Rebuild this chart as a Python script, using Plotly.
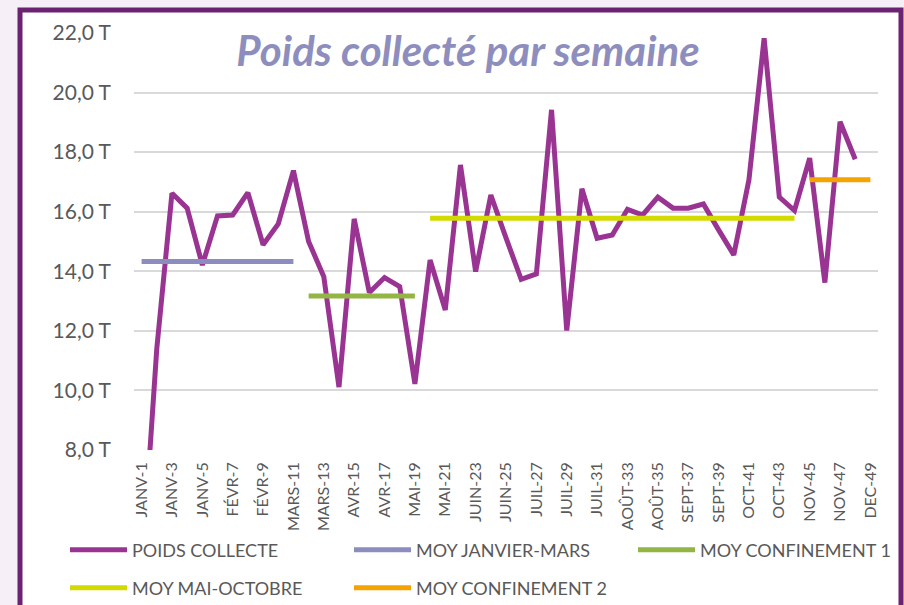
import plotly.graph_objects as go

month_of_week = {
    1: "JANV", 2: "JANV", 3: "JANV", 4: "JANV", 5: "JANV",
    6: "FÉVR", 7: "FÉVR", 8: "FÉVR", 9: "FÉVR",
    10: "MARS", 11: "MARS", 12: "MARS", 13: "MARS",
    14: "AVR", 15: "AVR", 16: "AVR", 17: "AVR",
    18: "MAI", 19: "MAI", 20: "MAI", 21: "MAI", 22: "MAI",
    23: "JUIN", 24: "JUIN", 25: "JUIN", 26: "JUIN",
    27: "JUIL", 28: "JUIL", 29: "JUIL", 30: "JUIL", 31: "JUIL",
    32: "AOÛT", 33: "AOÛT", 34: "AOÛT", 35: "AOÛT",
    36: "SEPT", 37: "SEPT", 38: "SEPT", 39: "SEPT",
    40: "OCT", 41: "OCT", 42: "OCT", 43: "OCT", 44: "OCT",
    45: "NOV", 46: "NOV", 47: "NOV", 48: "NOV",
    49: "DEC",
}
weeks = list(range(1, 50))
week_labels = [f"{month_of_week[w]}-{w}" for w in weeks]
tick_labels = [lbl for w, lbl in zip(weeks, week_labels) if w % 2 == 1]

poids_collecte = [
    3.8, 11.4, 16.62, 16.12, 14.21, 15.86, 15.89, 16.64, 14.89, 15.59,
    17.38, 15.0, 13.82, 10.11, 15.76, 13.29, 13.79, 13.49, 10.22, 14.38,
    12.7, 17.57, 13.99, 16.56, 15.12, 13.73, 13.91, 19.42, 12.01, 16.77,
    15.11, 15.22, 16.08, 15.89, 16.49, 16.12, 16.12, 16.26, 15.39, 14.55,
    17.07, 21.82, 16.49, 16.04, 17.8, 13.62, 19.02, 17.76, None,
]

moy_janvier_mars = 14.33
moy_confinement_1 = 13.17
moy_mai_octobre = 15.78
moy_confinement_2 = 17.07
periods = [
    ("MOY JANVIER-MARS", 1, 11, moy_janvier_mars, "#8C8DBE", "legend"),
    ("MOY CONFINEMENT 1", 12, 19, moy_confinement_1, "#93B544", "legend"),
    ("MOY MAI-OCTOBRE", 20, 44, moy_mai_octobre, "#D2DA00", "legend2"),
    ("MOY CONFINEMENT 2", 45, 49, moy_confinement_2, "#F5A300", "legend2"),
]

FONT = "Lato"
GREY = "#595959"

fig = go.Figure()
fig.add_trace(go.Scatter(
    x=week_labels, y=poids_collecte, mode="lines", name="POIDS COLLECTE",
    line=dict(color="#9A3493", width=5), legend="legend",
))
for name, w0, w1, val, col, leg in periods:
    ys = [val if w0 <= w <= w1 else None for w in weeks]
    fig.add_trace(go.Scatter(
        x=week_labels, y=ys, mode="lines", name=name,
        line=dict(color=col, width=5), legend=leg,
    ))

L, R, T, B = 134, 26, 33, 155
pw, ph = 904 - L - R, 605 - T - B

def px_x(p):
    return (p - L) / pw

def px_y(p):
    return (605 - B - p) / ph

fig.add_shape(type="rect", xref="paper", yref="paper",
              x0=px_x(20), x1=px_x(901), y0=px_y(620), y1=px_y(10),
              line=dict(color="#6B2270", width=5), fillcolor="white", layer="below")

legend_common = dict(
    orientation="h", x=px_x(65), xanchor="left", yanchor="middle",
    font=dict(family=FONT, size=18, color=GREY),
    entrywidth=212, entrywidthmode="pixels", bgcolor="rgba(0,0,0,0)",
    itemwidth=57, borderwidth=0,
)

fig.update_layout(
    width=904, height=605,
    margin=dict(l=L, r=R, t=T, b=B, pad=0, autoexpand=False),
    paper_bgcolor="#F6EFF7", plot_bgcolor="white",
    font=dict(family=FONT, color=GREY),
    title=dict(
        text="Poids collecté par semaine",
        font=dict(family=FONT, size=42, color="#8E8EBE", weight="bold", style="italic"),
        x=468 / 904, xanchor="center", xref="container",
        y=1 - 51 / 605, yanchor="middle", yref="container",
    ),
    showlegend=True,
    legend=dict(y=px_y(550), **legend_common),
    legend2=dict(y=px_y(588), **legend_common),
    xaxis=dict(
        type="category", categoryorder="array", categoryarray=week_labels,
        range=[-0.5, len(weeks) - 0.5],
        tickmode="array", tickvals=tick_labels, ticktext=tick_labels,
        tickangle=-90, tickfont=dict(family=FONT, size=16, color=GREY),
        showgrid=False, showline=False, zeroline=False, ticks="",
        ticklabelstandoff=8, automargin=False,
    ),
    yaxis=dict(
        range=[8, 22], tickvals=[8, 10, 12, 14, 16, 18, 20, 22],
        ticktext=["8,0 T", "10,0 T", "12,0 T", "14,0 T", "16,0 T", "18,0 T", "20,0 T", "22,0 T"],
        tickfont=dict(family=FONT, size=21, color=GREY),
        showgrid=True, gridcolor="#D9D9D9", gridwidth=1.5,
        zeroline=False, showline=False, ticks="", ticklabelstandoff=22,
        automargin=False,
    ),
)

fig.write_html(
    "out.html",
    config={"displayModeBar": False},
    post_script="document.body.style.margin='0';document.body.style.overflow='hidden';",
)
